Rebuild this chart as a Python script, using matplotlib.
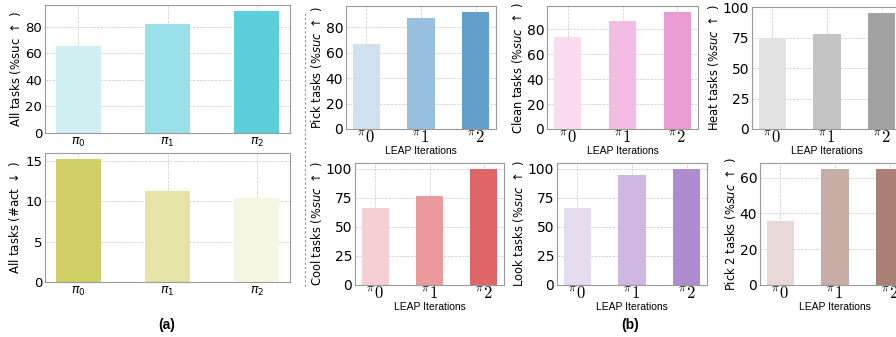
import numpy as np
import matplotlib
matplotlib.use("Agg")
import matplotlib.pyplot as plt
from matplotlib.lines import Line2D

# ─── Data ────────────────────────────────────────────────────────────────────
iters = ["π0", "π1", "π2"]

all_suc = [65.5, 82, 92]
all_act = [15.2, 11.3, 10.4]

pick_suc = [66.5, 87.5, 92]
clean_suc = [74, 87, 94]
heat_suc = [74, 78, 95.5]
cool_suc = [66.5, 76.3, 100]
look_suc = [66.5, 94.5, 100]
pick2_suc = [35.6, 65, 65]

# ─── Figure ──────────────────────────────────────────────────────────────────
W, H = 896, 337
fig = plt.figure(figsize=(W / 100, H / 100), dpi=100)


def px_axes(x0, y0, x1, y1):
    return fig.add_axes([x0 / W, 1 - y1 / H, (x1 - x0) / W, (y1 - y0) / H])


def style(ax):
    ax.grid(True, ls="--", lw=0.5, color="#c8c8c8")
    ax.set_axisbelow(True)
    for s in ax.spines.values():
        s.set_color("#9a9a9a")
        s.set_linewidth(0.8)
    ax.tick_params(length=0, pad=2)


def left_panel(ax, vals, colors, ylabel, ticks):
    x = np.arange(len(vals))
    ax.bar(x, vals, width=0.5, color=colors)
    style(ax)
    ax.set_xticks(x)
    ax.set_xticklabels([r"$\pi_{%s}$" % s[1] for s in iters], fontsize=9)
    ax.set_yticks(ticks)
    ax.tick_params(axis="y", labelsize=9.5)
    ax.set_ylabel(ylabel, fontsize=8.5, labelpad=2)


def mid_panel(ax, vals, colors, ylabel, ticks):
    x = np.arange(len(vals))
    ax.bar(x, vals, width=0.5, color=colors)
    style(ax)
    ax.set_xticks(x)
    labels = ax.set_xticklabels([r"${}^{\pi}%s$" % s[1] for s in iters], fontsize=12)
    for t in labels:
        t.set_math_fontfamily("cm")
    ax.set_yticks(ticks)
    ax.tick_params(axis="y", labelsize=10)
    ax.tick_params(axis="x", pad=-1)
    ax.set_ylabel(ylabel, fontsize=8.3, labelpad=1)
    ax.set_xlabel("LEAP Iterations", fontsize=7.5, family="Liberation Sans", labelpad=0)


# (a) panels
ax = px_axes(45, 5, 290, 133)
left_panel(ax, all_suc, ["#d0f0f3", "#99e0e9", "#5ccfdc"],
           r"All tasks (%suc $\uparrow$ )", [0, 20, 40, 60, 80])

ax = px_axes(45, 153, 290, 282)
left_panel(ax, all_act, ["#d1d066", "#e3e3a6", "#f5f5e2"],
           r"All tasks (#act $\downarrow$ )", [0, 5, 10, 15])

# (b) panels
ax = px_axes(346, 6, 496, 129)
mid_panel(ax, pick_suc, ["#cfe1ef", "#98c0de", "#62a0cb"],
          r"Pick tasks ($\%suc\ \uparrow$ )", [0, 20, 40, 60, 80])

ax = px_axes(547, 6, 698, 129)
mid_panel(ax, clean_suc, ["#f9dcef", "#f2bde2", "#ea9cd3"],
          r"Clean tasks ($\%suc\ \uparrow$ )", [0, 20, 40, 60, 80])

ax = px_axes(752, 7, 902, 129)
mid_panel(ax, heat_suc, ["#e3e3e3", "#c4c4c4", "#a2a2a2"],
          r"Heat tasks ($\%suc\ \uparrow$ )", [0, 25, 50, 75, 100])

ax = px_axes(355, 163, 504, 285)
mid_panel(ax, cool_suc, ["#f6cfd3", "#eb999c", "#e06568"],
          r"Cool tasks ($\%suc\ \uparrow$ )", [0, 25, 50, 75, 100])

ax = px_axes(557, 163, 707, 285)
mid_panel(ax, look_suc, ["#e6dcef", "#cdb6df", "#ae8ccf"],
          r"Look tasks ($\%suc\ \uparrow$ )", [0, 25, 50, 75, 100])

ax = px_axes(760, 163, 910, 285)
mid_panel(ax, pick2_suc, ["#e7d8d6", "#c8aca6", "#a97f76"],
          r"Pick 2 tasks ($\%suc\ \uparrow$ )", [0, 20, 40, 60])

# separator and sub-captions
fig.add_artist(Line2D([304.5 / W, 304.5 / W], [1 - 13 / H, 1 - 287 / H],
                      ls=(0, (2, 2)), lw=0.8, color="#909090"))
fig.text(167 / W, 1 - 325 / H, "(a)", ha="center", va="center",
         fontsize=10, fontweight="bold", family="Liberation Sans")
fig.text(630 / W, 1 - 325 / H, "(b)", ha="center", va="center",
         fontsize=10, fontweight="bold", family="Liberation Sans")

fig.savefig("out.png", dpi=100)
